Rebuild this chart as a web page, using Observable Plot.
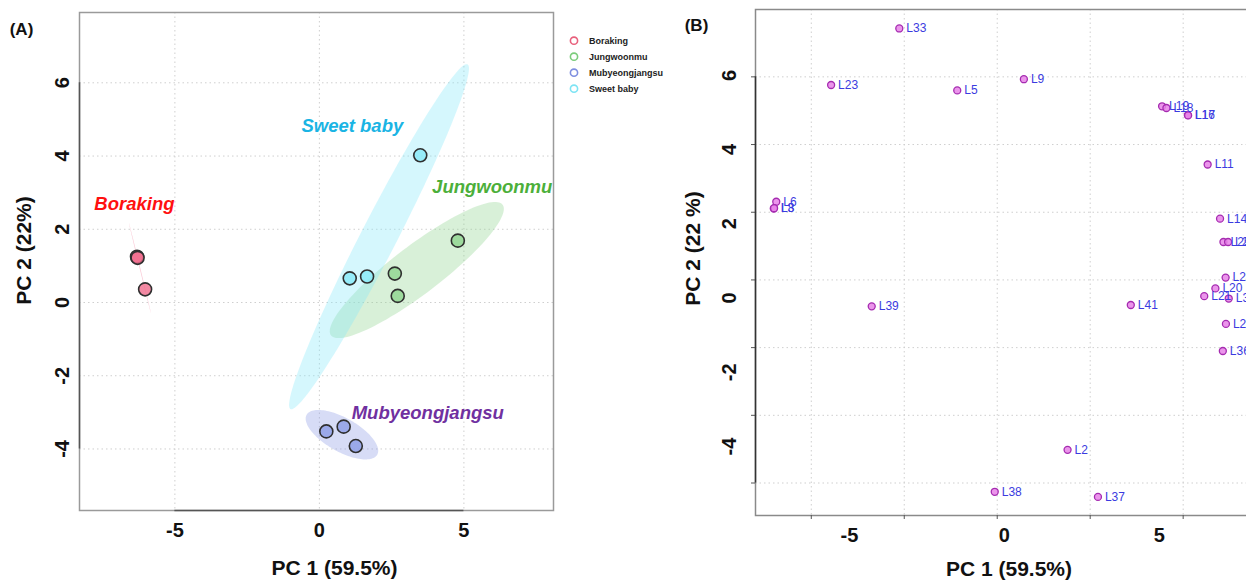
<!DOCTYPE html>
<html><head><meta charset="utf-8">
<script src="https://cdn.jsdelivr.net/npm/d3@7"></script>
<script src="https://cdn.jsdelivr.net/npm/@observablehq/plot@0.6"></script>
<style>
html,body{margin:0;padding:0;background:#fff;overflow:hidden;}
#wrap{position:relative;width:1246px;height:580px;overflow:hidden;background:#fff;}
#wrap svg{position:absolute;top:0;}
</style></head><body><div id="wrap"></div>
<script>
const FONT = '"Liberation Sans", Arial, Helvetica, sans-serif';

// ---------- Panel A: PCA scores ----------
const groups = ["Boraking", "Jungwoonmu", "Mubyeongjangsu", "Sweet baby"];
const groupFill = ["#f06b8c", "#8fd48f", "#8c9ce6", "#86e8f8"];
const groupLegendStroke = ["#e8607c", "#7ccc7c", "#7f8fe0", "#7ee4f4"];
const groupLabelColor = ["#ff1010", "#4caf3a", "#7030a0", "#1ab4e4"];
const groupLabelPC1 = [-6.40, 5.98, 3.75, 1.14];
const groupLabelPC2 = [2.70, 3.14, -3.02, 4.81];

const sampleGroup = ["Boraking","Boraking","Boraking",
  "Jungwoonmu","Jungwoonmu","Jungwoonmu",
  "Mubyeongjangsu","Mubyeongjangsu","Mubyeongjangsu",
  "Sweet baby","Sweet baby","Sweet baby"];
const samplePC1 = [-6.31, -6.29, -6.03, 4.79, 2.61, 2.71, 0.24, 0.84, 1.26, 3.49, 1.05, 1.65];
const samplePC2 = [1.25, 1.22, 0.36, 1.69, 0.79, 0.18, -3.52, -3.39, -3.92, 4.02, 0.66, 0.71];

const xTicksA = [-5, 0, 5];
const yTicksA = [-4, -2, 0, 2, 4, 6];

// ---------- Panel B: variables ----------
const varName = ["L33","L23","L5","L9","L19","L18","L16","L17","L11",
  "L6","L3","L8","L14","L25","L28","L24","L20","L21","L31",
  "L39","L41","L26","L36","L2","L38","L37"];
const varPC1 = [-3.16,-5.36,-1.29,0.86,5.32,5.46,6.15,6.16,6.79,
  -7.13,-7.21,-7.20,7.19,7.30,7.45,7.37,7.04,6.68,7.47,
  -4.05,4.31,7.38,7.28,2.27,-0.08,3.25];
const varPC2 = [7.43,5.76,5.60,5.93,5.13,5.08,4.87,4.86,3.41,
  2.31,2.11,2.12,1.81,1.12,1.12,0.07,-0.25,-0.48,-0.55,
  -0.78,-0.74,-1.30,-2.10,-5.02,-6.26,-6.41];

const gridXB = [-6, -3, 0, 3, 6];
const gridYB = [-6, -4, -2, 0, 2, 4, 6];
const xLabelsB = [-5, 0, 5];
const yLabelsB = [-4, -2, 0, 2, 4, 6];

// ---------- derived tables ----------
const samples = sampleGroup.map((g, i) => ({group: g, x: samplePC1[i], y: samplePC2[i]}));
const groupLabels = groups.map((g, i) => ({name: g, x: groupLabelPC1[i], y: groupLabelPC2[i]}));
const vars = varName.map((n, i) => ({name: n, x: varPC1[i], y: varPC2[i]}));

// 95% normal confidence ellipse from each group's points
function ellipseFor(g) {
  const pts = samples.filter(d => d.group === g);
  const n = pts.length;
  const mx = d3.mean(pts, d => d.x), my = d3.mean(pts, d => d.y);
  let sxx = 0, syy = 0, sxy = 0;
  for (const p of pts) { sxx += (p.x - mx) ** 2; syy += (p.y - my) ** 2; sxy += (p.x - mx) * (p.y - my); }
  sxx /= (n - 1); syy /= (n - 1); sxy /= (n - 1);
  const tr = (sxx + syy) / 2, disc = Math.sqrt(((sxx - syy) / 2) ** 2 + sxy ** 2);
  const l1 = tr + disc, l2 = Math.max(0, tr - disc);
  const th = 0.5 * Math.atan2(2 * sxy, sxx - syy);
  const k = Math.sqrt(5.991);
  const a = k * Math.sqrt(l1), b = k * Math.sqrt(l2);
  return d3.range(120).map(j => {
    const t = 2 * Math.PI * j / 120;
    return {group: g,
      x: mx + a * Math.cos(t) * Math.cos(th) - b * Math.sin(t) * Math.sin(th),
      y: my + a * Math.cos(t) * Math.sin(th) + b * Math.sin(t) * Math.cos(th)};
  });
}
const ellipses = groups.flatMap(ellipseFor);

const grid = {stroke: "#cfcfcf", strokeOpacity: 1, strokeDasharray: "1.5,3"};
const bold = {fontWeight: "bold", fill: "#111", fontSize: 20, textAnchor: "middle", lineAnchor: "middle"};

// ---------- Panel A plot ----------
const xDomA = [-8.30, 8.10], yDomA = [-5.68, 7.92];
const plotA = Plot.plot({
  width: 560, height: 580,
  marginLeft: 79, marginRight: 7, marginTop: 12, marginBottom: 70,
  x: {domain: xDomA, axis: null},
  y: {domain: yDomA, axis: null},
  color: {domain: groups, range: groupFill},
  style: {fontFamily: FONT, background: "transparent", overflow: "visible"},
  marks: [
    Plot.gridX(xTicksA, grid),
    Plot.gridY(yTicksA, grid),
    Plot.line(ellipses, {x: "x", y: "y", z: "group", fill: "group", fillOpacity: 0.35, stroke: "none", curve: "linear-closed"}),
    Plot.dot(samples, {x: "x", y: "y", r: 6.5, fill: "group", fillOpacity: 0.8, stroke: "#2f2f2f", strokeWidth: 1.6}),
    ...groups.map((g, i) => Plot.text([groupLabels[i]], {x: "x", y: "y", text: "name", fill: groupLabelColor[i],
      fontSize: 18.5, fontWeight: "bold", fontStyle: "italic"})),
    Plot.frame({stroke: "#9a9a9a", strokeWidth: 1.5}),
    Plot.ruleX([xDomA[0]], {y1: d3.min(yTicksA), y2: d3.max(yTicksA), stroke: "#555", strokeWidth: 1.5}),
    Plot.ruleY([yDomA[0]], {x1: d3.min(xTicksA), x2: d3.max(xTicksA), stroke: "#555", strokeWidth: 1.5}),
    Plot.text(yTicksA, {y: d => d, text: d => String(d), frameAnchor: "left", dx: -17, rotate: -90, ...bold}),
    Plot.text(xTicksA, {x: d => d, text: d => String(d), frameAnchor: "bottom", dy: 20, ...bold}),
    Plot.text(["PC 1 (59.5%)"], {text: d => d, frameAnchor: "bottom", dx: 18, dy: 58, ...bold, fontSize: 21}),
    Plot.text(["PC 2 (22%)"], {text: d => d, frameAnchor: "left", dx: -55, dy: -11, rotate: -90, ...bold, fontSize: 21}),
    Plot.text(["(A)"], {text: d => d, frameAnchor: "top-left", dx: -58, dy: 17, ...bold, fontSize: 17})
  ]
});
plotA.style.left = "0px";

// ---------- Panel B plot ----------
const xDomB = [-7.80, 8.56], yDomB = [-6.96, 7.99];
const plotB = Plot.plot({
  width: 600, height: 580,
  marginLeft: 85, marginRight: 8, marginTop: 9, marginBottom: 65,
  x: {domain: xDomB, axis: null},
  y: {domain: yDomB, axis: null},
  style: {fontFamily: FONT, background: "transparent", overflow: "visible"},
  marks: [
    Plot.gridX(gridXB, grid),
    Plot.gridY(gridYB, grid),
    Plot.frame({stroke: "#8a8a8a", strokeWidth: 1.5}),
    Plot.axisY(gridYB, {anchor: "left", tickSize: 4, tickFormat: () => "", label: null, stroke: "#555"}),
    Plot.axisX(gridXB, {anchor: "bottom", tickSize: 4, tickFormat: () => "", label: null, stroke: "#555"}),
    Plot.ruleX([xDomB[0]], {y1: d3.min(gridYB), y2: d3.max(gridYB), stroke: "#333", strokeWidth: 1.5}),
    Plot.dot(vars, {x: "x", y: "y", r: 3.5, fill: "#e783e7", fillOpacity: 0.85, stroke: "#a52bb0", strokeWidth: 1.3}),
    Plot.text(vars, {x: "x", y: "y", text: "name", dx: 7, textAnchor: "start", fill: "#3b3be0", fontSize: 12}),
    Plot.text(yLabelsB, {y: d => d * 1.0967 - 0.535, text: d => String(d), frameAnchor: "left", dx: -26, rotate: -90, ...bold}),
    Plot.text(xLabelsB, {x: d => d + 0.23, text: d => String(d), frameAnchor: "bottom", dy: 20, ...bold}),
    Plot.text(["PC 1 (59.5%)"], {text: d => d, frameAnchor: "bottom", dx: 0, dy: 53.5, ...bold, fontSize: 21}),
    Plot.text(["PC 2 (22 %)"], {text: d => d, frameAnchor: "left", dx: -62, dy: -14, rotate: -90, ...bold, fontSize: 21}),
    Plot.text(["(B)"], {text: d => d, frameAnchor: "top-left", dx: -59, dy: 16, ...bold, fontSize: 17})
  ]
});
plotB.style.left = "670px";

const wrap = document.getElementById("wrap");
wrap.appendChild(plotA);
wrap.appendChild(plotB);

// ---------- legend for panel A ----------
const leg = d3.create("svg").attr("width", 700).attr("height", 110)
  .style("left", "0px").style("font-family", FONT);
groups.forEach((g, i) => {
  const cy = 40.7 + 16 * i;
  leg.append("circle").attr("cx", 574).attr("cy", cy).attr("r", 3.6)
    .attr("fill", "none").attr("stroke", groupLegendStroke[i]).attr("stroke-width", 1.6);
  leg.append("text").attr("x", 589).attr("y", cy + 3.2).attr("font-size", 9)
    .attr("font-weight", "bold").attr("fill", "#222").text(g);
});
wrap.appendChild(leg.node());
</script></body></html>
